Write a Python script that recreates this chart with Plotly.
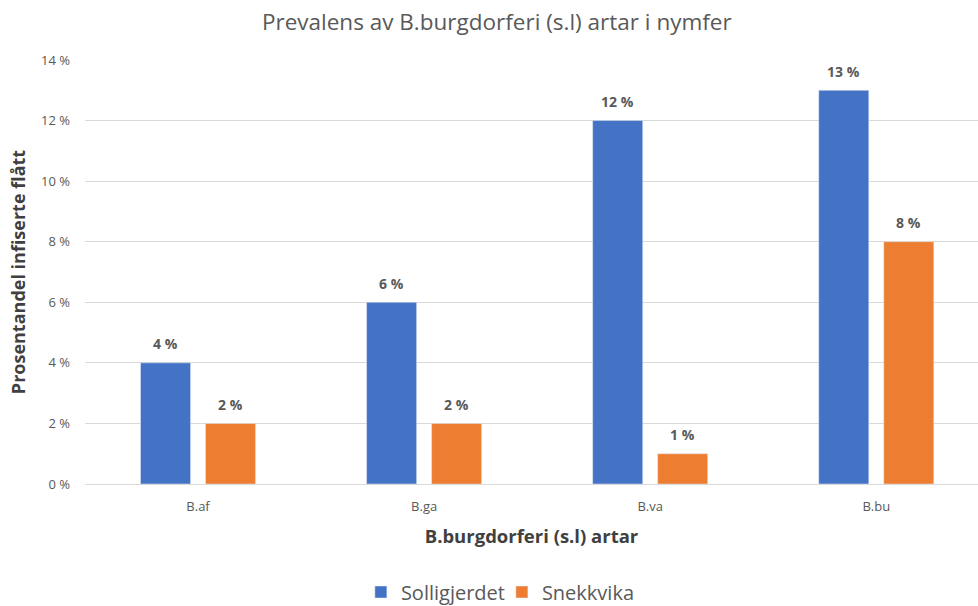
import plotly.graph_objects as go

categories = ["B.af", "B.ga", "B.va", "B.bu"]
solligjerdet = [4, 6, 12, 13]
snekkvika = [2, 2, 1, 8]
tick_vals = [0, 2, 4, 6, 8, 10, 12, 14]
tick_text = ["0 %", "2 %", "4 %", "6 %", "8 %", "10 %", "12 %", "14 %"]

FONT = "Open Sans, sans-serif"
GRAY = "#595959"
SLOT = 65  # px between paired bar centres

fig = go.Figure()
fig.add_trace(go.Bar(name="Solligjerdet", x=categories, y=solligjerdet,
                     marker=dict(color="#4472C4")))
fig.add_trace(go.Bar(name="Snekkvika", x=categories, y=snekkvika,
                     marker=dict(color="#ED7D31")))

for series, shift in ((solligjerdet, -SLOT / 2), (snekkvika, SLOT / 2)):
    for c, v in zip(categories, series):
        fig.add_annotation(x=c, y=v, text=f"<b>{v} %</b>", showarrow=False,
                           xshift=shift, yshift=19, yanchor="middle",
                           font=dict(family=FONT, size=14, color=GRAY))

fig.update_layout(
    width=978, height=606,
    margin=dict(l=85, r=0, t=60, b=122),
    paper_bgcolor="white", plot_bgcolor="white",
    barmode="group", bargap=0.425, bargroupgap=0.23,
    title=dict(text="Prevalens av B.burgdorferi (s.l) artar i nymfer",
               x=0.508, xanchor="center", y=0.963, yanchor="middle",
               font=dict(family=FONT, size=22.5, color=GRAY)),
    font=dict(family=FONT, color=GRAY),
    xaxis=dict(range=[-0.5, 3.45], showgrid=False, showline=True,
               linecolor="#d9d9d9", linewidth=1, ticks="", automargin=False,
               ticklabelstandoff=10,
               tickfont=dict(size=13, color=GRAY),
               title=dict(text="<b>B.burgdorferi (s.l) artar</b>",
                          font=dict(size=18.5, color="#404040"), standoff=16)),
    yaxis=dict(range=[0, 14], tickvals=tick_vals, ticktext=tick_text,
               showgrid=True, gridcolor="#d9d9d9", gridwidth=1,
               zeroline=False, ticks="", ticklabelstandoff=14, automargin=False,
               tickfont=dict(size=13, color=GRAY),
               title=dict(text="<b>Prosentandel infiserte flått</b>",
                          font=dict(size=18, color="#404040"), standoff=10)),
    legend=dict(orientation="h", xref="container", x=0.369, xanchor="left",
                yref="container", y=0.0231, yanchor="middle",
                font=dict(size=20, color=GRAY),
                traceorder="normal", entrywidth=96, entrywidthmode="pixels"),
)

fig.write_html("out.html", config={"displayModeBar": False},
               post_script="document.body.style.margin='0';document.body.style.overflow='hidden';")
